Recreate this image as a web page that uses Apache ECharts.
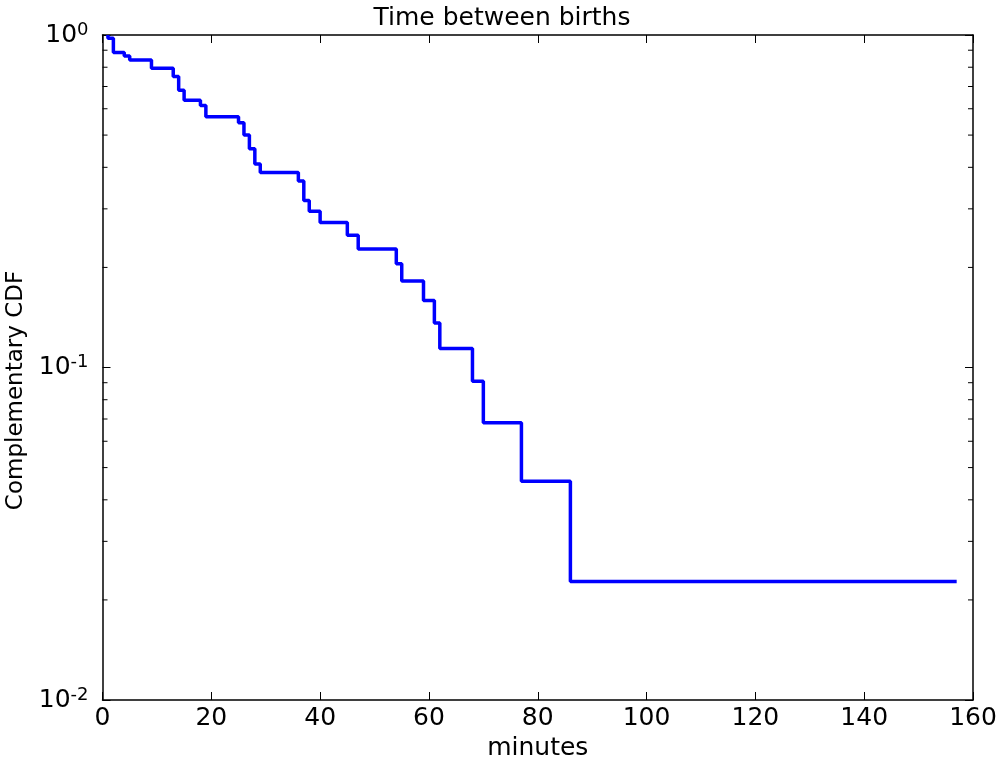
<!DOCTYPE html>
<html>
<head>
<meta charset="utf-8">
<script src="https://cdn.jsdelivr.net/npm/echarts@6/dist/echarts.min.js"></script>
<style>
html, body { margin: 0; padding: 0; background: #fff; }
#main { width: 1000px; height: 760px; }
</style>
</head>
<body>
<div id="main"></div>
<script>
// step points: level of the segment that ends at each minute value
var minutes = [1, 2, 4, 5, 9, 13, 14, 15, 18, 19, 25, 26, 27, 28, 29, 36, 37, 38, 40, 45, 47, 54, 55, 59, 61, 62, 68, 70, 77, 86, 157];
var ccdf = [1.0, 0.977, 0.886, 0.864, 0.841, 0.795, 0.750, 0.682, 0.636, 0.614, 0.568, 0.545, 0.500, 0.455, 0.409, 0.386, 0.364, 0.318, 0.295, 0.273, 0.250, 0.227, 0.205, 0.182, 0.159, 0.136, 0.114, 0.0909, 0.0682, 0.0455, 0.0227];
var yMinor = [0.02, 0.03, 0.04, 0.05, 0.06, 0.07, 0.08, 0.09, 0.2, 0.3, 0.4, 0.5, 0.6, 0.7, 0.8, 0.9];

var FONT = 'DejaVu Sans';
var chart = echarts.init(document.getElementById('main'));

var lineData = minutes.map(function (m, i) { return [m, ccdf[i]]; });
var minorData = yMinor.map(function (v) { return [0, v]; });

var option = {
    animation: false,
    backgroundColor: '#fff',
    title: {
        text: 'Time between births',
        left: 497,
        textAlign: 'center',
        top: 1,
        textStyle: { fontFamily: FONT, fontSize: 25, fontWeight: 'normal', color: '#000' }
    },
    grid: { left: 102.5, right: 27, top: 35, bottom: 60, containLabel: false, outerBoundsMode: 'none' },
    xAxis: [{
        type: 'value', min: 0, max: 160, interval: 20, position: 'bottom',
        name: 'minutes', nameLocation: 'middle', nameGap: 31,
        nameTextStyle: { fontFamily: FONT, fontSize: 25, color: '#000' },
        axisLine: { show: true, onZero: false, lineStyle: { color: '#000', width: 1.5 } },
        axisTick: { show: true, inside: true, length: 8, lineStyle: { color: '#000', width: 1 } },
        axisLabel: { fontFamily: FONT, fontSize: 25, color: '#000', margin: 6 },
        splitLine: { show: false }
    }, {
        type: 'value', min: 0, max: 160, interval: 20, position: 'top',
        axisLine: { show: true, onZero: false, lineStyle: { color: '#000', width: 1.5 } },
        axisTick: { show: true, inside: true, length: 8, lineStyle: { color: '#000', width: 1 } },
        axisLabel: { show: false },
        splitLine: { show: false }
    }],
    yAxis: [{
        type: 'log', logBase: 10, min: 0.01, max: 1, position: 'left',
        name: 'Complementary CDF', nameLocation: 'middle', nameGap: 74,
        nameTextStyle: { fontFamily: FONT, fontSize: 23, color: '#000', padding: [0, 46, 0, 0] },
        axisLine: { show: true, onZero: false, lineStyle: { color: '#000', width: 1.5 } },
        axisTick: { show: true, inside: true, length: 8, lineStyle: { color: '#000', width: 1 } },
        axisLabel: {
            margin: 14,
            formatter: function (v) {
                return '{b|10}{s|' + Math.round(Math.log10(v)) + '}';
            },
            rich: {
                b: { fontFamily: FONT, fontSize: 25, color: '#000' },
                s: { fontFamily: FONT, fontSize: 18, color: '#000', verticalAlign: 'top', padding: [0, 0, 10, 0] }
            }
        },
        splitLine: { show: false }
    }, {
        type: 'log', logBase: 10, min: 0.01, max: 1, position: 'right',
        axisLine: { show: true, onZero: false, lineStyle: { color: '#000', width: 1.5 } },
        axisTick: { show: true, inside: true, length: 8, lineStyle: { color: '#000', width: 1 } },
        axisLabel: { show: false },
        splitLine: { show: false }
    }],
    series: [{
        type: 'line',
        step: 'start',
        data: lineData,
        showSymbol: false,
        lineStyle: { color: '#0000ff', width: 3.5 },
        z: 3
    }, {
        type: 'custom',
        data: minorData,
        encode: { x: 0, y: 1 },
        renderItem: function (params, api) {
            var v = api.value(1);
            var pl = api.coord([0, v]);
            var pr = api.coord([160, v]);
            var st = { stroke: '#000', lineWidth: 1 };
            return {
                type: 'group',
                children: [
                    { type: 'line', shape: { x1: pl[0], y1: pl[1], x2: pl[0] + 5, y2: pl[1] }, style: st },
                    { type: 'line', shape: { x1: pr[0], y1: pr[1], x2: pr[0] - 5, y2: pr[1] }, style: st }
                ]
            };
        },
        z: 2
    }]
};

chart.setOption(option);
</script>
</body>
</html>
